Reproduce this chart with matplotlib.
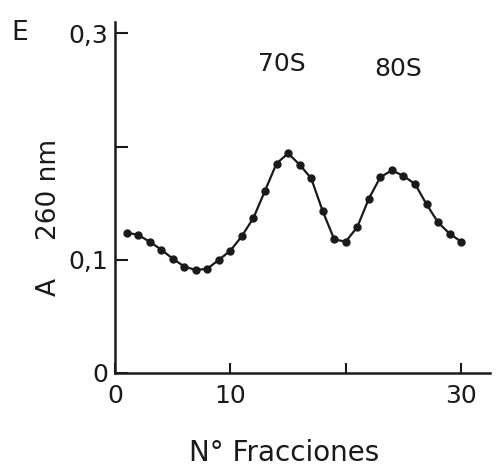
import numpy as np
import matplotlib
matplotlib.use('Agg')
import matplotlib.pyplot as plt

# absorbancia a 260 nm por fraccion del gradiente
fracciones = np.arange(1, 31)
absorbancia = [0.124, 0.122, 0.116, 0.109, 0.101, 0.094, 0.091, 0.092, 0.100, 0.108,
               0.121, 0.137, 0.161, 0.185, 0.194, 0.184, 0.172, 0.143, 0.118, 0.116,
               0.129, 0.154, 0.173, 0.179, 0.174, 0.167, 0.149, 0.133, 0.123, 0.116]

xticks = [0, 10, 20, 30]
xtick_labels = ['0', '10', '', '30']
yticks = [0, 0.1, 0.2, 0.3]
ytick_labels = ['0', '0,1', '', '0,3']

tinta = '#1a1a1a'
plt.rcParams['font.family'] = ['DejaVu Sans']

fig = plt.figure(figsize=(4.99, 4.72), dpi=100)
ax = fig.add_axes([115/499, 99/472, 375/499, 351/472])

ax.plot(fracciones, absorbancia, '-', color=tinta, lw=1.6,
        marker='o', markersize=5, markerfacecolor=tinta, markeredgecolor=tinta)

ax.set_xlim(0, 32.5)
ax.set_ylim(0, 0.31)
ax.set_xticks(xticks)
ax.set_xticklabels(xtick_labels)
ax.set_yticks(yticks)
ax.set_yticklabels(ytick_labels)

for s in ['top', 'right']:
    ax.spines[s].set_visible(False)
for s in ['left', 'bottom']:
    ax.spines[s].set_color(tinta)
    ax.spines[s].set_linewidth(1.8)

ax.tick_params(axis='x', direction='in', length=7, width=1.5, color=tinta,
               labelsize=18, pad=8, labelcolor=tinta)
ax.tick_params(axis='y', direction='in', length=9, width=1.5, color=tinta,
               labelsize=18, pad=5, labelcolor=tinta)

# rotulos de los ejes y de los picos
fig.text(284/499, 1 - 453/472, 'N° Fracciones', ha='center', va='center',
         fontsize=20, color=tinta)
fig.text(49/499, 1 - 287/472, 'A', ha='center', va='center', rotation=90,
         fontsize=19, color=tinta)
fig.text(49/499, 1 - 189/472, '260 nm', ha='center', va='center', rotation=90,
         fontsize=19, color=tinta)
fig.text(20/499, 1 - 33/472, 'E', ha='center', va='center',
         fontsize=19, color=tinta)
fig.text(282/499, 1 - 64/472, '70S', ha='center', va='center',
         fontsize=18, color=tinta)
fig.text(398/499, 1 - 69/472, '80S', ha='center', va='center',
         fontsize=18, color=tinta)

fig.savefig('out.png', dpi=100, facecolor='white')
